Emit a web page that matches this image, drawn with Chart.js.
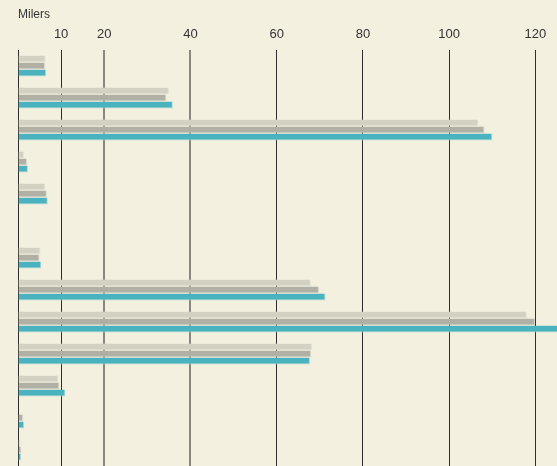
<!DOCTYPE html>
<html>
<head>
<meta charset="utf-8">
<script src="https://cdn.jsdelivr.net/npm/chart.js@4"></script>
<style>
  html, body { margin: 0; padding: 0; background: #f3f0e0; }
  #wrap { width: 557px; height: 466px; }
</style>
</head>
<body>
<div id="wrap"><canvas id="c"></canvas></div>
<script>
const categories = ['1', '2', '3', '4', '5', '6', '7', '8', '9', '10', '11', '12', '13'];
const seriesNames = ['Serie 1', 'Serie 2', 'Serie 3'];
const series1 = [6.4, 35.0, 106.8, 1.4, 6.3, null, 5.2, 67.9, 118.0, 68.2, 9.4, null, 0.6];
const series2 = [6.3, 34.4, 108.2, 2.1, 6.7, null, 5.0, 69.8, 119.9, 68.0, 9.6, 1.2, 0.8];
const series3 = [6.5, 35.9, 110.0, 2.3, 6.9, null, 5.4, 71.3, 128.0, 67.7, 11.0, 1.4, 0.7];
const tickValues = [0, 10, 20, 40, 60, 80, 100, 120];
const axisTitle = 'Milers';

const bw = {top: 0, left: 0, right: 1, bottom: 1};
const chart = new Chart(document.getElementById('c'), {
  type: 'bar',
  data: {
    labels: categories,
    datasets: [
      {label: seriesNames[0], data: series1, backgroundColor: '#d3d1c2', borderColor: '#e6e4d6', borderWidth: bw, borderSkipped: false},
      {label: seriesNames[1], data: series2, backgroundColor: '#b1b0a4', borderColor: '#dcdacd', borderWidth: bw, borderSkipped: false},
      {label: seriesNames[2], data: series3, backgroundColor: '#4bb2bf', borderColor: '#aad6d3', borderWidth: bw, borderSkipped: false}
    ]
  },
  options: {
    indexAxis: 'y',
    responsive: true,
    maintainAspectRatio: false,
    animation: false,
    categoryPercentage: 21 / 32,
    barPercentage: 1,
    layout: {padding: {top: 0, left: 18, right: 0, bottom: 0}},
    plugins: {
      legend: {display: false},
      tooltip: {enabled: false},
      title: {
        display: true,
        text: axisTitle,
        align: 'start',
        color: '#333',
        font: {family: 'Liberation Sans, Arial, sans-serif', size: 12, weight: 'normal'},
        padding: {top: 7, bottom: -3}
      }
    },
    scales: {
      x: {
        type: 'linear',
        position: 'top',
        min: 0,
        max: 125,
        z: 1,
        afterBuildTicks: (s) => { s.ticks = tickValues.map(v => ({value: v})); },
        ticks: {
          padding: 8,
          color: '#333',
          font: {family: 'Liberation Sans, Arial, sans-serif', size: 13},
          callback: (v) => v === 0 ? '' : String(v)
        },
        border: {display: false},
        grid: {
          drawTicks: false,
          color: (ctx) => (ctx.tick && (ctx.tick.value === 20 || ctx.tick.value === 40)) ? '#8a887e' : '#2e2e2c',
          lineWidth: (ctx) => (ctx.tick && (ctx.tick.value === 20 || ctx.tick.value === 40)) ? 2 : 1
        }
      },
      y: {
        display: false,
        grid: {display: false}
      }
    }
  }
});
</script>
</body>
</html>
